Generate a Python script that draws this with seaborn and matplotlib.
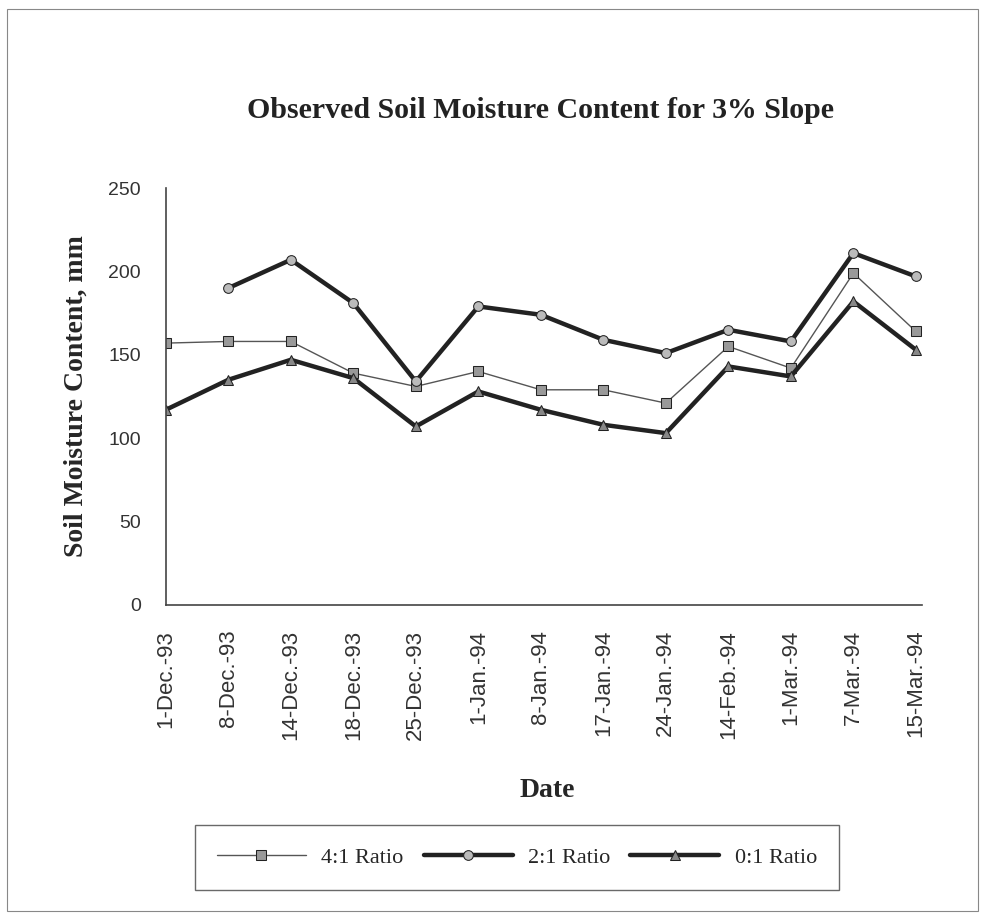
import numpy as np
import pandas as pd
import matplotlib
matplotlib.use('Agg')
import matplotlib.pyplot as plt
import seaborn as sns
from matplotlib.patches import Rectangle

dates = ['1-Dec.-93', '8-Dec.-93', '14-Dec.-93', '18-Dec.-93', '25-Dec.-93',
         '1-Jan.-94', '8-Jan.-94', '17-Jan.-94', '24-Jan.-94', '14-Feb.-94',
         '1-Mar.-94', '7-Mar.-94', '15-Mar.-94']
ratio_4_1 = [157, 158, 158, 139, 131, 140, 129, 129, 121, 155, 142, 199, 164]
ratio_2_1 = [np.nan, 190, 207, 181, 134, 179, 174, 159, 151, 165, 158, 211, 197]
ratio_0_1 = [117, 135, 147, 136, 107, 128, 117, 108, 103, 143, 137, 182, 153]
yticks = [0, 50, 100, 150, 200, 250]

df = pd.DataFrame({'x': np.arange(len(dates)),
                   '4:1 Ratio': ratio_4_1,
                   '2:1 Ratio': ratio_2_1,
                   '0:1 Ratio': ratio_0_1})

sns.set_style('white')
fig = plt.figure(figsize=(9.81, 9.22), dpi=100)
# axes box: x 166..922 px, y 188..605 px
ax = fig.add_axes([0.169, 0.344, 0.771, 0.452])

sns.lineplot(data=df, x='x', y='4:1 Ratio', ax=ax, color='#555555', lw=1.0,
             marker='s', markersize=7, markerfacecolor='#999999',
             markeredgecolor='#222222', label='4:1 Ratio')
sns.lineplot(data=df.dropna(), x='x', y='2:1 Ratio', ax=ax, color='#222222', lw=3.2,
             marker='o', markersize=7, markerfacecolor='#bbbbbb',
             markeredgecolor='#222222', label='2:1 Ratio')
sns.lineplot(data=df, x='x', y='0:1 Ratio', ax=ax, color='#222222', lw=3.2,
             marker='^', markersize=7, markerfacecolor='#888888',
             markeredgecolor='#222222', label='0:1 Ratio')

ax.set_xlim(0, len(dates) - 1 + 0.1)
ax.set_ylim(0, 250)
ax.set_yticks(yticks)
ax.set_xticks(df['x'])
ax.set_xticklabels(dates, rotation=90, fontsize=16, family='Liberation Sans', color='#333333')
ax.set_yticklabels([str(t) for t in yticks], fontsize=14, family='Liberation Sans', color='#333333')
ax.tick_params(axis='both', direction='inout', length=8, width=1, color='#555555')
ax.tick_params(axis='x', pad=14)
ax.tick_params(axis='y', pad=14)
for s in ['top', 'right']:
    ax.spines[s].set_visible(False)
for s in ['left', 'bottom']:
    ax.spines[s].set_color('#444444')
    ax.spines[s].set_linewidth(1.2)

ax.set_xlabel('Date', fontsize=20, fontweight='bold', family='Liberation Serif', va='center')
ax.xaxis.set_label_coords(0.504, -0.445)
ax.set_ylabel('Soil Moisture Content, mm', fontsize=20, fontweight='bold',
              family='Liberation Serif', va='center')
ax.yaxis.set_label_coords(-0.118, 0.5)
fig.text(0.551, 0.88, 'Observed Soil Moisture Content for 3% Slope', ha='center', va='center',
         fontsize=21.5, fontweight='bold', family='Liberation Serif', color='#222222')

leg = ax.legend(loc='center', bbox_to_anchor=(0.527, 0.07), bbox_transform=fig.transFigure,
                ncol=3, frameon=True, fancybox=False, handlelength=4.0, columnspacing=0.9,
                handletextpad=0.7, prop={'family': 'Liberation Serif', 'size': 16},
                borderpad=1.0)
leg.get_frame().set_edgecolor('#444444')
leg.get_frame().set_linewidth(1.0)

fig.patches.append(Rectangle((0.007, 0.012), 0.99, 0.978, transform=fig.transFigure,
                             fill=False, edgecolor='#888888', lw=0.8))

fig.savefig('out.png', dpi=100)
